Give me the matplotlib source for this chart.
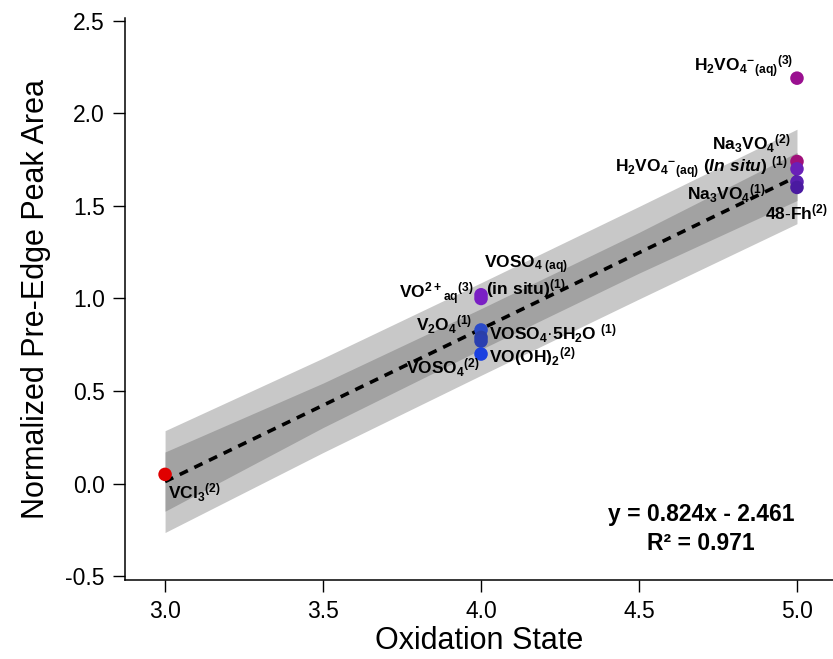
import numpy as np
import matplotlib
matplotlib.use('Agg')
import matplotlib.pyplot as plt

plt.rcParams['font.family'] = ['Liberation Sans', 'DejaVu Sans']
plt.rcParams['axes.unicode_minus'] = False
plt.rcParams['mathtext.fontset'] = 'custom'
plt.rcParams['mathtext.rm'] = 'Liberation Sans:bold'
plt.rcParams['mathtext.bf'] = 'Liberation Sans:bold'
plt.rcParams['mathtext.it'] = 'Liberation Sans:bold:italic'
plt.rcParams['mathtext.default'] = 'rm'

# datos de los estandares
ox_state = [3, 4, 4, 4, 4, 4, 4, 5, 5, 5, 5, 5]
peak_area = [0.05, 1.00, 1.02, 0.83, 0.79, 0.77, 0.70, 2.19, 1.74, 1.70, 1.63, 1.60]
point_colors = ['#e00000', '#7a1fc4', '#7a1fc4', '#2a4ac8', '#2a3fa8', '#2a3fb0', '#1a40e0',
                '#9a1090', '#a0107a', '#6a20b8', '#5a20b0', '#4a1aa0']

# ajuste lineal
slope = 0.824
intercept = -2.461
r2 = 0.971

# bandas (prediccion y confianza)
x_band = [3.0, 3.5, 4.0, 4.5, 5.0]
pred_lo = [-0.264, 0.168, 0.585, 0.997, 1.404]
pred_hi = [0.286, 0.678, 1.085, 1.497, 1.914]
conf_lo = [-0.149, 0.303, 0.725, 1.137, 1.529]
conf_hi = [0.171, 0.543, 0.945, 1.357, 1.789]

# etiquetas: (indice del punto, texto, offset px, alineacion)
labels = [
    (0, r'$VCl_3{}^{(2)}$', (3, -18), 'left'),
    (1, r'$VO^{2+}{}_{aq}{}^{(3)}$', (-7, 5), 'right'),
    (2, r'$VOSO_{4\ (aq)}$', (3, 30), 'left'),
    (2, r'$(in\ situ)^{(1)}$', (5, 6), 'left'),
    (3, r'$V_2O_4{}^{(1)}$', (-9, 5), 'right'),
    (5, r'$VOSO_4$·$5H_2O\ {}^{(1)}$', (8, 7), 'left'),
    (6, r'$VO(OH)_2{}^{(2)}$', (8, -3), 'left'),
    (4, r'$VOSO_4{}^{(2)}$', (-1, -30), 'right'),
    (7, r'$H_2VO_4{}^{-}{}_{(aq)}{}^{(3)}$', (-4, 11), 'right'),
    (8, r'$Na_3VO_4{}^{(2)}$', (-7, 18), 'right'),
    (9, r'$H_2VO_4{}^{-}{}_{(aq)}\ (\mathit{In\ situ})\ {}^{(1)}$', (-9, 1), 'right'),
    (10, r'$Na_3VO_4{}^{(1)}$', (-32, -12), 'right'),
    (11, r'$48$-$Fh^{(2)}$', (-32, -25), 'left'),
]

fig = plt.figure(figsize=(8.33, 6.59), dpi=100)
ax = fig.add_axes([0.150, 0.120, 0.850, 0.853])

ax.fill_between(x_band, pred_lo, pred_hi, color='#c8c8c8', lw=0, zorder=1)
ax.fill_between(x_band, conf_lo, conf_hi, color='#a2a2a2', lw=0, zorder=2)

xl = np.array([3.0, 5.0])
ax.plot(xl, slope * xl + intercept, color='black', ls=(0, (2.5, 2)), lw=2.6, zorder=3)

ax.scatter(ox_state, peak_area, s=95, c=point_colors, edgecolors='none', zorder=4)

for i, txt, off, ha in labels:
    ax.annotate(txt, (ox_state[i], peak_area[i]), xytext=off, textcoords='offset pixels',
                ha=ha, va='center', fontsize=12.5, annotation_clip=False, zorder=5)

fig.text(0.8415, 0.22, 'y = %.3fx - %.3f' % (slope, -intercept), ha='center', va='center',
         fontsize=16.5, fontweight='bold')
fig.text(0.8415, 0.176, 'R² = %.3f' % r2, ha='center', va='center',
         fontsize=16.5, fontweight='bold')

ax.set_xlim(2.873, 5.114)
ax.set_ylim(-0.52, 2.516)
ax.set_xticks([3.0, 3.5, 4.0, 4.5, 5.0])
ax.set_yticks([-0.5, 0.0, 0.5, 1.0, 1.5, 2.0, 2.5])
ax.xaxis.set_major_formatter(matplotlib.ticker.FormatStrFormatter('%.1f'))
ax.yaxis.set_major_formatter(matplotlib.ticker.FormatStrFormatter('%.1f'))
ax.tick_params(direction='out', length=8.5, width=1, labelsize=16.5, pad=6)
ax.spines['top'].set_visible(False)
ax.spines['right'].set_visible(False)
ax.spines['left'].set_linewidth(1.1)
ax.spines['bottom'].set_linewidth(1.1)

ax.set_xlabel('Oxidation State', fontsize=22, labelpad=2)
ax.set_ylabel('Normalized Pre-Edge Peak Area', fontsize=22, labelpad=10)

fig.savefig('out.png', dpi=100)
